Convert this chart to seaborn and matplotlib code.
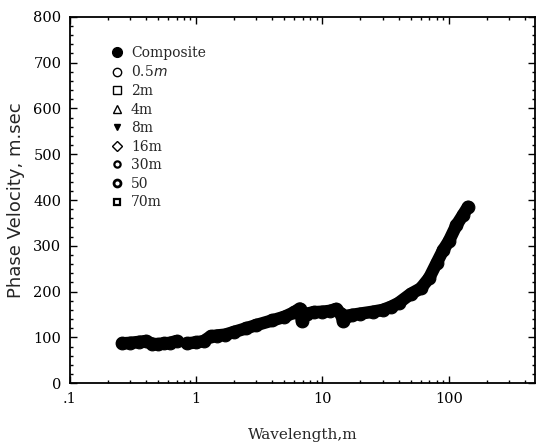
import matplotlib
matplotlib.use("Agg")
import matplotlib.pyplot as plt
from matplotlib.lines import Line2D
from matplotlib.ticker import FixedLocator, LogLocator, MultipleLocator, NullFormatter
import seaborn as sns
import pandas as pd

# composite dispersion curve, two pieces (gap near 0.8 m)
wl_short = [0.26, 0.30, 0.35, 0.40, 0.45, 0.50, 0.56, 0.62, 0.70]
vel_short = [87, 88, 90, 92, 86, 85, 87, 88, 92]

wl_long = [0.85, 1.0, 1.15, 1.3, 1.45, 1.7, 2.0, 2.5, 3.0, 4.0, 5.0, 6.0, 6.6,
           6.9, 7.1, 7.6, 8.5, 10, 11.5, 12.8, 14, 14.6, 15.5, 17, 20, 25, 30,
           35, 40, 50, 60, 70, 80, 90, 100, 115, 130, 142]
vel_long = [87, 89, 92, 102, 104, 106, 112, 120, 127, 137, 145, 155, 163,
            135, 148, 152, 155, 156, 158, 162, 152, 135, 146, 149, 152, 156,
            160, 167, 175, 195, 207, 230, 262, 290, 310, 345, 368, 385]

legend_labels = ["Composite", "0.5$m$", "2m", "4m", "8m", "16m", "30m", "50", "70m"]
x_ticks = [0.1, 1, 10, 100]
x_ticklabels = [".1", "1", "10", "100"]
y_ticks = [0, 100, 200, 300, 400, 500, 600, 700, 800]

sns.set_theme(style="ticks")
plt.rcParams['font.family'] = ['DejaVu Serif']

fig = plt.figure(figsize=(5.37, 4.43), dpi=100)
ax = fig.add_axes([0.130, 0.135, 0.866, 0.827])

df_s = pd.DataFrame({"wl": wl_short, "v": vel_short})
df_l = pd.DataFrame({"wl": wl_long, "v": vel_long})
for d in (df_s, df_l):
    sns.lineplot(data=d, x="wl", y="v", ax=ax, color="black", lw=9,
                 sort=False, legend=False, solid_capstyle="round",
                 solid_joinstyle="round")
    sns.scatterplot(data=d, x="wl", y="v", ax=ax, color="black", s=85,
                    edgecolor="black", legend=False, zorder=3)

ax.set_xscale("log")
ax.set_xlim(0.1, 480)
ax.set_ylim(0, 800)
ax.xaxis.set_major_locator(FixedLocator(x_ticks))
ax.set_xticklabels(x_ticklabels)
ax.xaxis.set_minor_locator(LogLocator(base=10, subs=range(2, 10)))
ax.xaxis.set_minor_formatter(NullFormatter())
ax.set_yticks(y_ticks)
ax.yaxis.set_minor_locator(MultipleLocator(20))

ax.tick_params(which="both", direction="in", top=True, right=True,
               labelsize=10.5, width=1, colors="black")
ax.tick_params(which="major", length=5, pad=6)
ax.tick_params(which="minor", length=2.5)
for s in ax.spines.values():
    s.set_color("black")
    s.set_linewidth(1.3)

ax.set_xlabel("Wavelength,m", fontsize=11, labelpad=16)
ax.set_ylabel("Phase Velocity, m.sec", fontsize=13, family="DejaVu Sans",
              labelpad=6)

styles = [
    dict(marker="o", mfc="black", ms=7),
    dict(marker="o", mfc="white", ms=6),
    dict(marker="s", mfc="white", ms=5.5),
    dict(marker="^", mfc="white", ms=6),
    dict(marker="v", mfc="black", ms=4.5),
    dict(marker="D", mfc="white", ms=5),
    dict(marker="o", mfc="white", ms=4.5, mew=1.6),
    dict(marker="o", mfc="white", ms=5, mew=2),
    dict(marker="s", mfc="white", ms=4, mew=1.6),
]
handles = [Line2D([], [], ls="none", mec="black", **st) for st in styles]
ax.legend(handles, legend_labels, loc="upper left", bbox_to_anchor=(0.06, 0.955),
          frameon=False, fontsize=10, handletextpad=0.5, labelspacing=0.33,
          handlelength=1.0)

fig.savefig("out.png", dpi=100)
